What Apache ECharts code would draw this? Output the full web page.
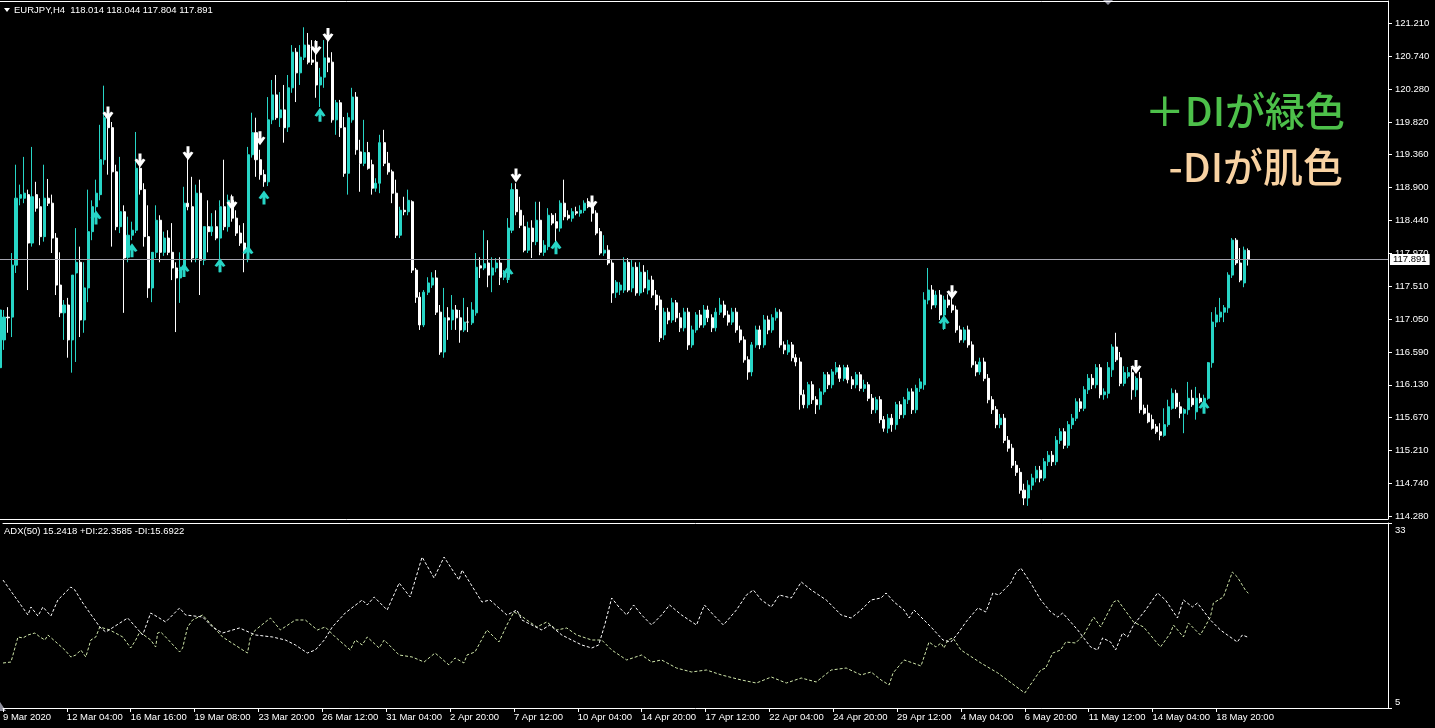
<!DOCTYPE html>
<html><head><meta charset="utf-8">
<script src="https://cdn.jsdelivr.net/npm/echarts@6.0.0/dist/echarts.min.js"></script>
<style>html,body{margin:0;padding:0;background:#000;}#c{width:1435px;height:728px;}</style>
</head><body><div id="c"></div>
<script>
// ---------- DATA ----------
const headerText = 'EURJPY,H4  118.014 118.044 117.804 117.891';
const adxText = 'ADX(50) 15.2418 +DI:22.3585 -DI:15.6922';
const lastPrice = 117.891;
const priceTicks = [114.28,114.74,115.21,115.67,116.13,116.59,117.05,117.51,117.97,118.44,118.90,119.36,119.82,120.28,120.74,121.21];
const adxTicks = [5, 33];
const timeTickLabels = ['9 Mar 2020','12 Mar 04:00','16 Mar 16:00','19 Mar 08:00','23 Mar 20:00','26 Mar 12:00','31 Mar 04:00','2 Apr 20:00','7 Apr 12:00','10 Apr 04:00','14 Apr 20:00','17 Apr 12:00','22 Apr 04:00','24 Apr 20:00','29 Apr 12:00','4 May 04:00','6 May 20:00','11 May 12:00','14 May 04:00','18 May 20:00'];
const barsPerTick = 16;
const totalSlots = 348;
// [open, high, low, close] per H4 bar
const ohlc = [
[116.37,117.32,116.09,117.18],[116.76,117.18,116.62,117.08],[117.08,117.22,116.86,117.07],[117.08,117.98,116.80,117.81],[117.81,119.22,117.70,118.75],
[118.75,118.94,118.65,118.80],[118.75,119.33,118.68,118.82],[118.80,118.87,117.46,118.12],[118.12,119.47,118.07,118.77],[118.80,118.98,118.56,118.61],
[118.63,118.75,118.09,118.21],[118.21,119.22,118.14,118.75],[118.75,119.02,118.64,118.68],[118.68,118.80,117.98,118.19],[118.19,118.26,117.39,117.53],
[117.53,117.99,117.08,117.14],[117.14,117.32,116.76,117.25],[117.25,117.35,116.51,116.76],[116.76,117.67,116.30,117.67],[117.70,118.33,116.45,117.85],
[117.85,118.07,116.80,117.04],[117.04,117.85,116.86,117.49],[117.49,118.87,117.29,118.28],[118.28,118.72,118.16,118.63],[118.63,119.01,118.51,118.82],
[118.80,119.78,118.72,119.29],[119.29,120.33,119.22,119.88],[119.88,119.96,119.08,119.74],[119.74,119.82,118.07,119.12],[119.12,119.22,118.30,118.35],
[118.35,119.33,118.26,118.56],[118.56,118.65,117.14,117.91],[117.92,118.49,117.85,118.23],[118.23,118.42,118.16,118.30],[118.30,119.68,118.26,119.17],
[119.17,119.29,118.80,118.87],[118.87,118.96,118.07,118.21],[118.21,118.65,117.35,117.49],[117.49,117.74,117.29,117.99],[117.99,118.65,117.91,118.44],
[118.44,118.51,117.85,117.99],[117.99,118.28,117.94,118.19],[118.19,118.30,117.95,117.99],[117.99,118.40,117.60,117.77],[117.77,117.85,116.87,117.63],
[117.63,117.99,117.28,117.78],[117.78,118.91,117.71,118.68],[118.68,119.46,118.58,118.63],[118.63,119.05,117.85,117.91],[117.91,118.94,117.85,118.82],
[118.82,119.01,117.39,117.88],[117.88,118.02,117.81,118.35],[118.35,118.72,117.99,118.28],[118.28,118.54,118.22,118.35],[118.35,118.58,118.16,118.19],
[118.19,118.72,117.71,118.63],[118.63,119.29,118.30,118.35],[118.35,118.80,118.28,118.72],[118.72,118.80,118.42,118.47],[118.47,118.58,118.22,118.26],
[118.26,118.37,118.08,118.12],[118.12,118.40,117.71,118.02],[118.02,119.47,117.85,119.36],[119.36,119.95,119.32,119.67],[119.67,119.88,119.05,119.29],
[119.29,119.43,119.01,119.08],[119.08,119.15,118.91,118.98],[118.98,120.17,118.92,119.85],[119.85,120.41,119.79,120.20],[120.20,120.48,119.85,119.88],
[119.88,120.24,119.75,119.99],[119.99,120.34,119.53,119.74],[119.75,120.48,119.68,120.30],[120.30,120.90,120.23,120.80],[120.80,120.86,120.10,120.51],
[120.51,120.90,120.34,120.73],[120.73,121.15,120.69,120.90],[120.90,121.07,120.63,120.66],[120.69,120.97,120.62,120.66],[120.66,120.97,120.16,120.34],
[120.34,120.58,120.03,120.45],[120.45,120.97,120.30,120.72],[120.72,120.97,120.52,120.66],[120.66,120.80,119.81,119.85],[119.85,120.13,119.64,120.09],
[120.09,120.13,119.61,119.74],[119.74,119.89,119.05,119.10],[119.10,119.95,118.80,119.88],[119.85,120.30,119.81,120.17],[120.17,120.24,119.36,119.43],
[119.40,119.57,118.84,119.24],[119.24,119.85,119.20,119.39],[119.39,119.54,119.15,119.17],[119.22,119.29,118.80,118.89],[118.89,119.03,118.84,118.96],
[118.96,119.64,118.82,119.53],[119.53,119.71,119.20,119.24],[119.24,119.40,119.08,119.12],[119.12,119.15,118.68,118.82],[118.82,119.01,118.19,118.23],
[118.23,118.63,118.19,118.58],[118.58,118.77,118.51,118.56],[118.56,118.87,118.51,118.72],[118.70,118.72,117.70,117.74],[117.74,117.77,117.28,117.36],
[117.36,117.43,116.90,116.97],[116.97,117.46,116.94,117.43],[117.43,117.64,117.39,117.56],[117.53,117.71,117.49,117.63],[117.63,117.74,117.11,117.15],
[117.15,117.25,116.55,116.59],[116.59,117.49,116.51,117.07],[117.07,117.22,116.76,117.04],[117.04,117.39,116.90,117.18],[117.18,117.25,116.90,117.07],
[117.07,117.18,116.72,116.90],[116.90,117.35,116.87,117.01],[117.01,117.22,116.87,117.01],[117.00,117.29,116.97,117.18],[117.14,117.98,117.10,117.78],
[117.80,117.92,117.63,117.77],[117.77,118.30,117.74,117.83],[117.84,118.16,117.50,117.67],[117.67,117.92,117.43,117.77],[117.77,117.91,117.71,117.84],
[117.84,117.92,117.53,117.64],[117.64,117.74,117.60,117.71],[117.64,118.47,117.56,118.33],[118.30,118.96,118.26,118.87],[118.87,118.96,118.51,118.56],
[118.58,118.77,118.33,118.37],[118.35,118.51,117.99,118.02],[118.02,118.42,117.98,118.33],[118.33,118.44,117.91,118.14],[118.14,118.70,118.09,118.44],
[118.44,118.70,117.95,117.99],[117.99,118.16,117.94,118.09],[118.07,118.61,118.02,118.51],[118.51,118.54,118.37,118.40],[118.42,118.54,118.05,118.33],
[118.33,118.72,118.28,118.68],[118.68,119.01,118.44,118.49],[118.51,118.58,118.44,118.47],[118.47,118.61,118.42,118.56],[118.56,118.63,118.51,118.54],
[118.54,118.65,118.49,118.58],[118.58,118.72,118.54,118.68],[118.68,118.75,118.61,118.63],[118.68,118.77,118.42,118.54],[118.54,118.58,118.23,118.26],
[118.28,118.33,117.95,117.98],[117.98,118.23,117.94,118.02],[118.02,118.09,117.81,117.84],[117.84,117.88,117.28,117.42],[117.43,117.60,117.35,117.57],
[117.46,117.57,117.39,117.53],[117.46,117.92,117.42,117.85],[117.85,117.91,117.43,117.46],[117.49,117.88,117.43,117.78],[117.78,117.85,117.38,117.42],
[117.42,117.85,117.38,117.71],[117.71,117.81,117.43,117.49],[117.46,117.74,117.40,117.60],[117.60,117.66,117.35,117.39],[117.39,117.46,117.18,117.25],
[117.32,117.38,116.73,116.79],[116.83,117.21,116.76,117.15],[117.15,117.21,116.98,117.04],[117.04,117.35,117.00,117.28],[117.28,117.32,117.01,117.07],
[117.07,117.14,116.87,116.93],[116.93,117.21,116.88,117.15],[117.15,117.21,116.62,116.69],[116.69,116.96,116.65,116.90],[116.90,117.15,116.86,117.11],
[117.11,117.18,116.93,116.97],[116.97,117.25,116.93,117.18],[117.18,117.24,117.01,117.07],[117.07,117.12,116.87,116.93],[116.93,117.21,116.88,117.15],
[117.15,117.35,117.11,117.25],[117.25,117.31,117.07,117.11],[117.11,117.17,116.96,117.01],[117.01,117.21,116.97,117.15],[117.15,117.21,116.86,116.90],
[116.90,116.96,116.72,116.76],[116.76,116.81,116.44,116.48],[116.48,116.53,116.20,116.31],[116.31,116.73,116.25,116.69],[116.69,116.96,116.65,116.90],
[116.90,116.96,116.63,116.69],[116.69,117.11,116.65,117.04],[117.04,117.10,116.84,116.90],[116.90,117.12,116.86,117.07],[117.07,117.21,117.03,117.15],
[117.15,117.19,116.65,116.69],[116.69,116.74,116.56,116.62],[116.59,116.76,116.55,116.69],[116.69,116.73,116.46,116.51],[116.51,116.56,116.39,116.45],
[116.45,116.51,115.78,115.99],[115.99,116.06,115.80,115.85],[115.85,116.17,115.80,116.13],[116.13,116.18,115.86,115.92],[115.92,115.97,115.72,115.85],
[115.85,116.08,115.78,116.03],[116.03,116.31,115.99,116.27],[116.27,116.31,116.07,116.13],[116.13,116.35,116.08,116.31],[116.31,116.45,116.27,116.37],
[116.37,116.41,116.17,116.22],[116.22,116.41,116.18,116.37],[116.37,116.41,116.15,116.20],[116.20,116.25,116.07,116.13],[116.13,116.31,116.08,116.27],
[116.27,116.31,116.04,116.08],[116.08,116.20,116.03,116.13],[116.13,116.17,115.90,115.94],[115.94,116.00,115.72,115.78],[115.78,115.96,115.73,115.92],
[115.92,115.97,115.59,115.64],[115.64,115.69,115.47,115.52],[115.52,115.72,115.45,115.66],[115.66,115.72,115.47,115.57],[115.57,115.89,115.50,115.85],
[115.85,115.90,115.65,115.71],[115.71,115.96,115.66,115.92],[115.92,116.08,115.86,116.03],[116.03,116.08,115.72,115.78],[115.78,116.13,115.73,116.08],
[116.08,116.22,116.03,116.17],[116.13,117.43,116.06,117.32],[117.32,117.77,117.26,117.46],[117.46,117.53,117.19,117.25],[117.25,117.45,117.21,117.39],
[117.39,117.46,117.04,117.11],[117.11,117.38,116.90,117.32],[117.32,117.40,117.21,117.25],[117.25,117.35,117.14,117.18],[117.18,117.24,116.86,116.90],
[116.90,116.96,116.72,116.76],[116.76,116.94,116.72,116.90],[116.90,116.96,116.65,116.69],[116.69,116.74,116.37,116.41],[116.41,116.46,116.25,116.31],
[116.31,116.51,116.27,116.45],[116.45,116.51,116.18,116.22],[116.22,116.28,115.87,115.92],[115.92,115.97,115.72,115.78],[115.78,115.83,115.52,115.57],
[115.57,115.72,115.52,115.66],[115.66,115.72,115.31,115.35],[115.35,115.41,115.19,115.24],[115.24,115.30,114.96,115.00],[115.00,115.06,114.85,114.90],
[114.90,114.96,114.60,114.65],[114.65,114.74,114.44,114.54],[114.54,114.79,114.43,114.72],[114.72,114.88,114.65,114.82],[114.82,114.99,114.76,114.93],
[114.93,114.99,114.76,114.82],[114.82,115.10,114.78,115.05],[115.05,115.20,114.99,115.14],[115.14,115.20,114.99,115.05],[115.05,115.41,115.00,115.35],
[115.35,115.52,115.30,115.47],[115.47,115.52,115.23,115.28],[115.28,115.62,115.24,115.57],[115.57,115.72,115.51,115.66],[115.66,115.94,115.62,115.89],
[115.89,115.94,115.75,115.80],[115.80,116.11,115.76,116.06],[116.06,116.28,116.00,116.22],[116.22,116.28,116.07,116.13],[116.13,116.42,116.08,116.37],
[116.37,116.42,115.94,115.99],[115.99,116.08,115.92,116.03],[116.01,116.45,115.94,116.37],[116.34,116.70,116.24,116.66],[116.66,116.86,116.45,116.48],
[116.51,116.59,116.11,116.15],[116.15,116.39,116.11,116.30],[116.25,116.38,116.22,116.30],[116.30,116.37,115.92,116.06],[116.06,116.25,115.96,116.22],
[116.22,116.31,115.73,115.78],[115.80,115.85,115.71,115.73],[115.73,115.85,115.59,115.61],[115.64,115.71,115.50,115.52],[115.54,115.58,115.44,115.47],
[115.47,115.59,115.35,115.42],[115.42,115.80,115.40,115.57],[115.57,115.92,115.54,115.82],[115.80,116.08,115.78,116.01],[116.01,116.06,115.79,115.82],
[115.82,115.89,115.66,115.73],[115.73,115.80,115.45,115.78],[115.78,116.17,115.71,115.94],[115.94,116.06,115.82,115.85],[115.75,116.10,115.64,115.94],
[115.94,116.01,115.87,115.89],[115.89,115.99,115.85,115.94],[115.94,116.45,115.92,116.44],[116.44,117.15,116.37,117.01],[117.01,117.22,116.94,117.11],
[117.08,117.35,117.01,117.15],[117.15,117.25,117.01,117.21],[117.21,117.71,117.14,117.67],[117.67,118.19,117.63,118.16],[118.16,118.19,117.81,117.84],
[117.84,118.05,117.57,117.60],[117.56,118.07,117.50,118.02],[118.014,118.044,117.804,117.891]
];
// signal arrows: [bar index, price]
const downArrows = [[27,119.94],[35,119.28],[47,119.38],[58,118.68],[65,119.59],[79,120.86],[82,121.04],[129,119.07],[148,118.69],[238,117.43],[284,116.38]];
const upArrows = [[24,118.48],[33,118.02],[46,117.74],[55,117.81],[62,117.99],[66,118.76],[80,119.92],[127,117.70],[139,118.06],[236,117.01],[301,115.82]];
// ADX(50) directional lines, turning points: [bar index, value]
const plusDI = [[0,11.81],[2,11.96],[3.75,15.75],[5,15.60],[6.25,16.05],[8,16.35],[9.25,15.75],[10.5,15.29],[11.25,16.05],[13.25,14.99],[15.5,13.78],[17,12.72],[18.25,13.02],[19.5,13.78],[20.75,12.72],[22,15.29],[23.25,15.75],[24.25,17.26],[26.75,16.81],[30,15.75],[32,14.08],[33.25,15.29],[34.25,16.50],[37,15.29],[38.25,14.23],[38.75,16.35],[39.5,16.50],[40.75,15.75],[44.25,13.48],[45,14.08],[46.25,17.26],[47.5,18.32],[50,19.08],[55,15.75],[61.25,13.32],[62,15.75],[63.25,16.81],[67,18.62],[69.5,16.81],[73.25,18.32],[75.75,18.32],[78.75,16.81],[80.75,17.26],[83.25,15.75],[87,13.78],[88.25,15.29],[90,14.54],[91.25,15.75],[94.25,14.08],[95.5,15.29],[99.25,13.02],[102.5,12.72],[105.5,11.96],[108.25,13.32],[111.75,11.51],[113.25,12.57],[115.5,11.81],[116.25,13.02],[118.25,13.48],[121.25,16.81],[124.25,14.99],[126.25,17.56],[128,19.53],[129.5,19.08],[131.25,18.32],[133.75,17.26],[136.25,18.02],[138.75,16.81],[141.25,17.11],[143.75,16.05],[147.5,15.29],[150,15.29],[152.5,13.78],[156.25,12.27],[160,13.02],[162.5,11.96],[165,12.27],[168.75,11.05],[172.5,10.45],[176.25,10.75],[180,10.0],[185,9.24],[188.75,8.78],[192.5,9.69],[196.25,8.78],[200,9.54],[203.75,8.94],[207.5,10.75],[211.25,11.05],[215,10.0],[217.5,10.45],[220,9.24],[222,8.48],[223,10.30],[225.75,12.27],[228,11.81],[230,11.36],[232,14.99],[233.75,14.23],[235,14.84],[235.75,14.08],[236.75,15.29],[238,15.60],[240,13.78],[245,11.81],[249.25,10.30],[256,7.27],[258.75,9.69],[260,10.75],[261.25,11.05],[263,13.32],[265,13.78],[266.25,14.99],[268.75,14.84],[270.75,16.05],[273.25,18.77],[275,17.26],[278.25,21.04],[279.25,21.35],[283.25,18.02],[285.75,17.26],[290,14.23],[292.5,16.35],[293.25,17.56],[295.75,15.75],[297,17.87],[300,16.05],[302.5,18.77],[303.25,20.89],[305.75,21.80],[308,25.58],[309.25,24.83],[311.25,22.86],[312,22.36]];
const minusDI = [[0,24.37],[6.25,19.08],[7,20.29],[8.75,18.92],[10,20.29],[12,18.92],[13.75,21.35],[17,23.31],[18,22.86],[20,20.89],[24.25,17.26],[25.75,16.50],[31.25,18.62],[33.25,17.26],[35,16.05],[37,19.38],[38.75,18.77],[40.75,18.02],[44.25,20.14],[45.75,19.08],[50,18.77],[52.5,17.26],[55,16.35],[59.25,17.11],[63.25,16.05],[67.5,15.75],[70.75,15.29],[73.25,14.54],[76.25,13.32],[78.25,13.78],[80.5,15.29],[82.5,17.26],[85.75,19.38],[90,21.35],[91.25,20.59],[93,21.80],[96.25,19.83],[99.25,23.92],[102,21.80],[105,27.85],[108,24.68],[110.5,27.85],[114.25,24.37],[115,25.89],[120,21.04],[122,21.35],[124.25,20.14],[126.25,19.08],[128.75,19.83],[130,18.32],[132.5,17.56],[135,16.81],[137,17.56],[140,16.05],[142.5,15.29],[145,14.54],[147.5,14.08],[149.25,14.54],[150.75,17.56],[152.5,21.65],[154.5,20.14],[156.25,19.08],[158,20.59],[160,19.08],[162.5,17.56],[165,19.08],[167,20.59],[170,19.08],[173.75,17.56],[175.75,20.59],[178,19.08],[180.5,17.56],[183.75,19.83],[186.25,22.10],[188,22.86],[190,21.35],[192.5,20.29],[194.5,22.10],[197.5,21.65],[200,24.07],[202.5,22.86],[206.25,21.35],[210,19.08],[212.5,18.62],[215,19.83],[217.5,21.35],[220,21.65],[221.25,22.41],[223.25,21.04],[225.75,19.83],[227,18.62],[228.25,19.83],[230,18.77],[232.5,17.26],[235.5,15.29],[237.5,14.99],[239.5,16.50],[241.25,18.02],[244.25,20.14],[246.25,19.53],[248,22.41],[249.5,22.10],[250.75,22.86],[252.5,23.92],[253.75,25.43],[255,26.19],[257.5,23.92],[260,21.35],[262.5,19.53],[264.25,18.77],[265.5,19.38],[269.25,16.81],[272.5,14.23],[274.25,13.78],[275.5,15.60],[277.5,14.99],[278.75,13.78],[280.5,16.35],[281.75,15.75],[283.25,17.56],[286.25,19.83],[289.25,22.41],[291.25,21.35],[294.25,18.62],[295.75,21.35],[298,20.29],[299.25,20.89],[302.5,18.32],[305,16.81],[306.75,16.05],[309.25,14.99],[310.5,16.05],[311.75,15.75],[312,15.69]];
const noteLines = ['＋DIが緑色', '-DIが肌色'];

// ---------- STYLE ----------
const BULL = '#27d5c6', BEAR = '#ffffff', AXIS = '#ffffff';
const FONT = '"Liberation Sans", Arial, sans-serif';
const downPath = 'path://M4,0H7V10H4Z M0,6L2.5,4.8L5.5,8.6L8.5,4.8L11,6L5.5,13Z';
const upPath = 'path://M4,13H7V3H4Z M0,7L2.5,8.2L5.5,4.4L8.5,8.2L11,7L5.5,0Z';
const cats = Array.from({length: totalSlots}, (_, i) => String(i));
const tickIdx = timeTickLabels.map((_, k) => k * barsPerTick);
const axLine = {show: true, onZero: false, lineStyle: {color: AXIS, width: 1}};

const chart = echarts.init(document.getElementById('c'), null, {renderer: 'canvas'});
chart.setOption({
  backgroundColor: '#000',
  animation: false,
  grid: [
    {left: 0, top: 1, width: 1388, height: 518},
    {left: 0, top: 523, width: 1388, height: 185}
  ],
  xAxis: [
    {type: 'category', gridIndex: 0, data: cats, boundaryGap: false, axisLine: axLine, axisTick: {show: false}, axisLabel: {show: false}, splitLine: {show: false}},
    {type: 'category', gridIndex: 0, position: 'top', data: cats, boundaryGap: false, axisLine: axLine, axisTick: {show: false}, axisLabel: {show: false}, splitLine: {show: false}},
    {type: 'value', gridIndex: 1, min: 0, max: totalSlots - 1, axisLine: axLine,
      axisTick: {show: true, customValues: tickIdx, length: 4, lineStyle: {color: AXIS}},
      axisLabel: {customValues: tickIdx, formatter: v => timeTickLabels[Math.round(v / barsPerTick)] || '', align: 'left', color: '#fff', fontSize: 9.5, fontFamily: FONT, margin: 4},
      splitLine: {show: false}},
    {type: 'value', gridIndex: 1, position: 'top', min: 0, max: totalSlots - 1, axisLine: axLine, axisTick: {show: false}, axisLabel: {show: false}, splitLine: {show: false}}
  ],
  yAxis: [
    {type: 'value', gridIndex: 0, position: 'right', min: 114.245, max: 121.519, axisLine: axLine,
      axisTick: {show: true, customValues: priceTicks, length: 4, lineStyle: {color: AXIS}},
      axisLabel: {customValues: priceTicks, formatter: v => v.toFixed(3), color: '#fff', fontSize: 9.5, fontFamily: FONT, margin: 7},
      splitLine: {show: false}},
    {type: 'value', gridIndex: 1, position: 'right', min: adxTicks[0], max: adxTicks[1], axisLine: axLine,
      axisTick: {show: true, customValues: adxTicks, length: 4, lineStyle: {color: AXIS}},
      axisLabel: {customValues: adxTicks, color: '#fff', fontSize: 9.5, fontFamily: FONT, margin: 7,
        formatter: v => v === adxTicks[1] ? '{t|' + v + '}' : '{b|' + v + '}',
        rich: {t: {padding: [14, 0, 0, 0], color: '#fff', fontSize: 9.5, fontFamily: FONT}, b: {padding: [0, 0, 12, 0], color: '#fff', fontSize: 9.5, fontFamily: FONT}}},
      splitLine: {show: false}}
  ],
  series: [
    {type: 'candlestick', xAxisIndex: 0, yAxisIndex: 0,
      data: ohlc.map(d => [d[0], d[3], d[2], d[1]]),
      barWidth: 2.5,
      itemStyle: {color: BULL, color0: BEAR, borderColor: BULL, borderColor0: BEAR, borderColorDoji: BEAR, borderWidth: 1},
      markLine: {silent: true, symbol: ['none', 'none'], animation: false,
        data: [{yAxis: lastPrice}],
        lineStyle: {color: '#a4a4ae', width: 1, type: 'solid'},
        label: {show: true, position: 'end', formatter: lastPrice.toFixed(3), backgroundColor: '#fff', color: '#000', padding: [1, 3, 0, 3], fontSize: 9.5, fontFamily: FONT, distance: 2}}},
    {type: 'scatter', xAxisIndex: 0, yAxisIndex: 0, data: downArrows, symbol: downPath, symbolSize: [11, 14], itemStyle: {color: '#fff', opacity: 1}, z: 5},
    {type: 'scatter', xAxisIndex: 0, yAxisIndex: 0, data: upArrows, symbol: upPath, symbolSize: [11, 14], itemStyle: {color: BULL, opacity: 1}, z: 5},
    {type: 'line', xAxisIndex: 2, yAxisIndex: 1, data: plusDI, symbol: 'none', lineStyle: {color: '#cfe6aa', width: 1, type: [3, 2]}},
    {type: 'line', xAxisIndex: 2, yAxisIndex: 1, data: minusDI, symbol: 'none', lineStyle: {color: '#ffffff', width: 1, type: [3, 2]}}
  ],
  graphic: [
    {type: 'polygon', shape: {points: [[4, 8], [10, 8], [7, 12]]}, style: {fill: '#fff'}},
    {type: 'text', x: 14, y: 10, style: {text: headerText, fill: '#fff', font: '9.5px ' + FONT, verticalAlign: 'middle'}},
    {type: 'text', x: 4, y: 531, style: {text: adxText, fill: '#fff', font: '9.5px ' + FONT, verticalAlign: 'middle'}},
    {type: 'polygon', shape: {points: [[1103, 0], [1113, 0], [1108, 5]]}, style: {fill: '#8e8e9c'}},
    {type: 'polygon', shape: {points: [[0, 702], [0, 711], [6, 711]]}, style: {fill: '#8e8e9c'}},
    {type: 'text', x: 1345, y: 111, style: {text: noteLines[0], fill: '#4dc04a', font: '500 40px "Noto Sans CJK JP"', align: 'right', verticalAlign: 'middle'}},
    {type: 'text', x: 1343, y: 167, style: {text: noteLines[1], fill: '#f8d2a2', font: '500 40px "Noto Sans CJK JP"', align: 'right', verticalAlign: 'middle'}}
  ]
});
</script></body></html>
